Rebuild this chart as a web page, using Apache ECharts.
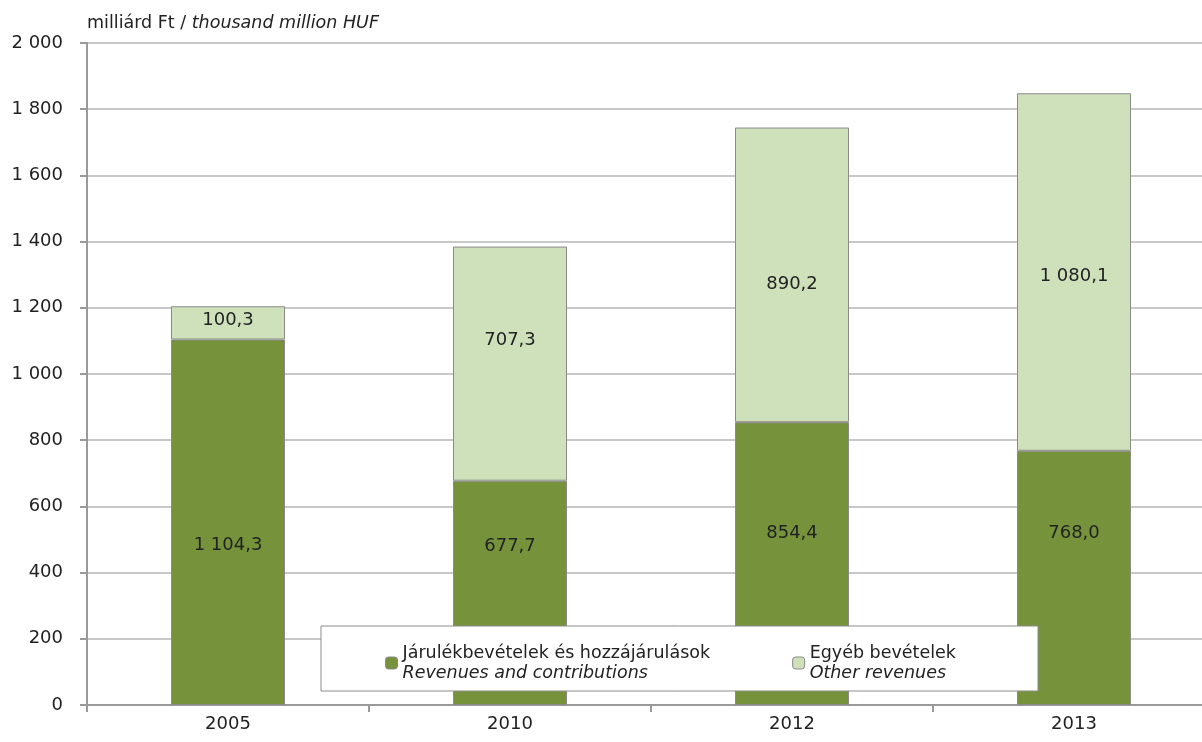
<!DOCTYPE html>
<html>
<head>
<meta charset="utf-8">
<script src="https://cdn.jsdelivr.net/npm/echarts@6/dist/echarts.min.js"></script>
<style>
html,body{margin:0;padding:0;background:#fff;}
#c{width:1202px;height:742px;}
</style>
</head>
<body>
<div id="c"></div>
<script>
const categories = ['2005', '2010', '2012', '2013'];
const contributions = [1104.3, 677.7, 854.4, 768.0];
const otherRevenues = [100.3, 707.3, 890.2, 1080.1];
const seriesNamesHu = ['Járulékbevételek és hozzájárulások', 'Egyéb bevételek'];
const seriesNamesEn = ['Revenues and contributions', 'Other revenues'];
const axisTitleHu = 'milliárd Ft / ';
const axisTitleEn = 'thousand million HUF';

const FONT = 'DejaVu Sans';
function fmt(v, dec) {
  const s = v.toFixed(dec);
  const parts = s.split('.');
  const intp = parts[0].replace(/\B(?=(\d{3})+(?!\d))/g, ' ');
  return parts.length > 1 ? intp + ',' + parts[1] : intp;
}

// label vertical nudges (styling only, as in the original manually placed labels)
const contribLabelShift = [23, -47, -30, -45];
const otherLabelShift = [-3, -23, 9, 4];

const chart = echarts.init(document.getElementById('c'));
function labelCfg(dy) {
  return {
    show: true, position: 'inside', color: '#222', fontSize: 18, fontFamily: FONT,
    offset: [0, dy], formatter: p => fmt(p.value, 1)
  };
}
chart.setOption({
  animation: false,
  grid: { left: 87, top: 43, bottom: 37, width: 1128, outerBoundsMode: 'none', containLabel: false },
  legend: {
    left: 321, top: 626,
    orient: 'horizontal',
    backgroundColor: '#fff', borderColor: '#8c8c8c', borderWidth: 1, borderRadius: 0,
    padding: [18, 82, 9, 64],
    itemGap: 82, itemWidth: 12, itemHeight: 12,
    data: [
      { name: seriesNamesHu[0], itemStyle: { borderColor: '#8a8a8a', borderWidth: 1 } },
      { name: seriesNamesHu[1], itemStyle: { borderColor: '#8a8a8a', borderWidth: 1 } }
    ],
    formatter: function (name) {
      const i = seriesNamesHu.indexOf(name);
      return '{a|' + name + '}\n{b|' + seriesNamesEn[i] + '}';
    },
    textStyle: {
      rich: {
        a: { fontSize: 17.5, fontFamily: FONT, color: '#222', lineHeight: 20 },
        b: { fontSize: 17.5, fontFamily: FONT, color: '#222', fontStyle: 'italic', lineHeight: 20 }
      }
    }
  },
  xAxis: {
    type: 'category', data: categories,
    axisLine: { lineStyle: { color: '#9a9a9a', width: 2 } },
    axisTick: { show: true, length: 7, lineStyle: { color: '#9a9a9a', width: 2 } },
    axisLabel: { color: '#222', fontSize: 18, fontFamily: FONT, margin: 10 }
  },
  yAxis: {
    type: 'value', min: 0, max: 2000, interval: 200,
    name: '{a|' + axisTitleHu + '}{b|' + axisTitleEn + '}',
    nameLocation: 'end', nameGap: 11,
    nameTextStyle: {
      align: 'left', padding: [0, 0, 0, 0],
      rich: {
        a: { fontSize: 17.5, fontFamily: FONT, color: '#222' },
        b: { fontSize: 17.5, fontFamily: FONT, color: '#222', fontStyle: 'italic' }
      }
    },
    axisLine: { show: true, lineStyle: { color: '#9a9a9a', width: 2 } },
    axisTick: { show: true, length: 7, lineStyle: { color: '#9a9a9a', width: 2 } },
    splitLine: { lineStyle: { color: '#c8c8c8', width: 2 } },
    axisLabel: { color: '#222', fontSize: 18, fontFamily: FONT, margin: 24, formatter: v => fmt(v, 0) }
  },
  series: [
    {
      name: seriesNamesHu[0], type: 'bar', stack: 'a', barWidth: 114,
      data: contributions.map((v, i) => ({ value: v, label: labelCfg(contribLabelShift[i]) })),
      itemStyle: { color: '#76933c', borderColor: '#8a8a8a', borderWidth: 1 },
      label: labelCfg(0)
    },
    {
      name: seriesNamesHu[1], type: 'bar', stack: 'a', barWidth: 114,
      data: otherRevenues.map((v, i) => ({ value: v, label: labelCfg(otherLabelShift[i]) })),
      itemStyle: { color: '#cfe1bb', borderColor: '#8a8a8a', borderWidth: 1 },
      label: labelCfg(0)
    }
  ]
});
</script>
</body>
</html>
